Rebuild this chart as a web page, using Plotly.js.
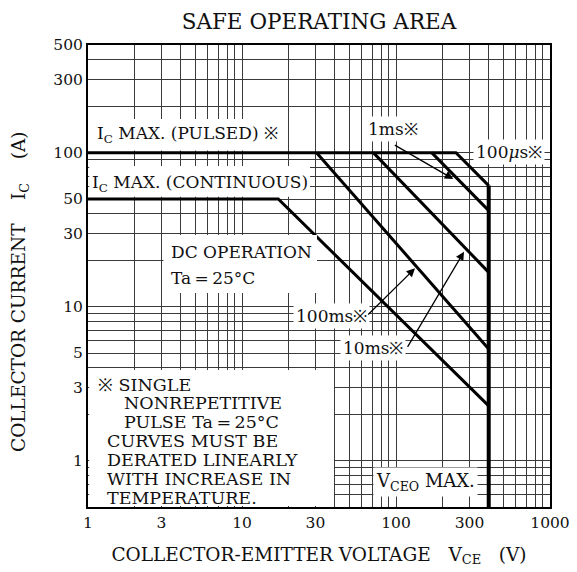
<!DOCTYPE html>
<html>
<head>
<meta charset="utf-8">
<script src="https://cdn.plot.ly/plotly-3.0.1.min.js"></script>
<style>html,body{margin:0;padding:0;background:#fff;}#chart{width:577px;height:572px;}</style>
</head>
<body>
<div id="chart"></div>
<script>
// ---- data (V in volts, I in amperes) ----
const dcV    = [1, 17.2, 400];
const dcI    = [50, 50, 2.27];
const ms100V = [30.5, 400];
const ms100I = [100, 5.31];
const ms10V  = [71.2, 400];
const ms10I  = [100, 16.7];
const ms1V   = [170.5, 400];
const ms1I   = [100, 42.0];
const us100V = [1, 245, 400];
const us100I = [100, 100, 61.1];
const vceoV  = [400, 400];
const vceoI  = [61.1, 0.5];

const xTickVals = [1, 3, 10, 30, 100, 300, 1000];
const xTickText = ['1', '3', '10', '30', '100', '300', '1000'];
const yTickVals = [1, 3, 5, 10, 30, 50, 100, 300, 500];
const yTickText = ['1', '3', '5', '10', '30', '50', '100', '300', '500'];

// ---- log grid positions ----
function logGrid(lo, hi) {
  const out = [];
  for (let d = -1; d <= 3; d++) {
    for (let m = 1; m <= 9; m++) {
      const v = +(m * Math.pow(10, d)).toPrecision(6);
      if (v >= lo - 1e-9 && v <= hi + 1e-9) out.push(v);
    }
  }
  return out;
}
const xGrid = logGrid(1, 1000);
const yGrid = logGrid(0.5, 500);

const FONT = 'DejaVu Serif';
const INK = '#111';

// plot area in px: left 88, right 550, top 45, bottom 507
const L = 88, T = 45, W = 462, H = 462;
const px = v => (v - L) / W;
const py = v => (T + H - v) / H;

function line(x, y, w) {
  return {x: x, y: y, type: 'scatter', mode: 'lines', showlegend: false, hoverinfo: 'skip',
          line: {color: '#000', width: w}};
}
const traces = [
  line(us100V, us100I, 3),
  line(ms1V, ms1I, 3),
  line(ms10V, ms10I, 3),
  line(ms100V, ms100I, 3),
  line(dcV, dcI, 3),
  line(vceoV, vceoI, 4)
];

// white panels that hide the grid behind the text blocks
function box(x0, x1, y0, y1) {
  return {type: 'rect', xref: 'paper', yref: 'paper', layer: 'above',
          x0: px(x0), x1: px(x1), y0: py(y1), y1: py(y0),
          fillcolor: '#fff', line: {width: 0}};
}
const shapes = [
  box(89.2, 286, 119, 150.5),
  box(89.2, 310, 166, 196.8),
  box(163.5, 317, 235, 293),
  box(89.2, 334, 370, 506)
];

function label(text, x, y, size, bg) {
  const a = {text: text, xref: 'paper', yref: 'paper', x: px(x), y: py(y),
             xanchor: 'left', yanchor: 'middle', showarrow: false,
             font: {family: FONT, size: size, color: INK}};
  if (bg) { a.bgcolor = '#fff'; a.borderpad = 2; }
  return a;
}
function arrow(hx, hy, tx, ty) {
  return {text: '', xref: 'paper', yref: 'paper', x: px(hx), y: py(hy),
          ax: tx - hx, ay: ty - hy, showarrow: true, arrowhead: 2, arrowsize: 1.3,
          arrowwidth: 1.3, arrowcolor: '#000', standoff: 0};
}
const annotations = [
  label('I<sub>C</sub> MAX. (PULSED) ※', 95, 135, 17, false),
  label('I<sub>C</sub> MAX. (CONTINUOUS)', 90, 183, 17, false),
  label('DC OPERATION', 169, 252, 17, false),
  label('Ta\u2009=\u200925°C', 169, 278, 17, false),
  label('1ms※', 365, 129, 17, true),
  label('100<i>μ</i>s※', 473, 152, 17, true),
  label('100ms※', 293, 316, 17, true),
  label('10ms※', 340, 348, 17, true),
  label('V<sub>CEO</sub> MAX.', 373, 482, 18, true),
  label('※ SINGLE', 96, 385, 17.5, false),
  label('NONREPETITIVE', 122, 403, 17.5, false),
  label('PULSE Ta\u2009=\u200925°C', 122, 422, 17.5, false),
  label('CURVES MUST BE', 105, 441, 17.5, false),
  label('DERATED LINEARLY', 105, 460, 17.5, false),
  label('WITH INCREASE IN', 105, 479, 17.5, false),
  label('TEMPERATURE.', 105, 498, 17.5, false),
  arrow(453.3, 179, 393.3, 144.3),
  arrow(415, 268.3, 366.7, 316),
  arrow(464, 251.7, 406.7, 348.3),
  // y-axis title, placed like the reference (slightly below the plot centre)
  {text: 'COLLECTOR CURRENT\u00a0\u00a0\u00a0\u00a0I<sub>C</sub>\u00a0\u00a0\u00a0\u00a0(A)',
   xref: 'paper', yref: 'paper', x: px(20), y: py(292), xanchor: 'center', yanchor: 'middle',
   textangle: -90, showarrow: false, font: {family: FONT, size: 18.5, color: INK}}
];

const gridColor = '#3a3a3a';
const layout = {
  width: 577, height: 572,
  margin: {l: L, r: 577 - L - W, t: T, b: 572 - T - H, pad: 0},
  paper_bgcolor: '#fff', plot_bgcolor: '#fff',
  font: {family: FONT, color: INK},
  title: {text: 'SAFE OPERATING AREA', font: {family: FONT, size: 21.5, color: INK},
          x: 0.5, xref: 'paper', y: 0.962, yanchor: 'middle'},
  xaxis: {
    type: 'log', range: [0, 3], fixedrange: true,
    tickmode: 'array', tickvals: xTickVals, ticktext: xTickText,
    ticks: '', tickfont: {family: FONT, size: 15.5, color: INK},
    showgrid: true, gridcolor: gridColor, gridwidth: 1,
    minor: {tickmode: 'array', tickvals: xGrid, showgrid: true, gridcolor: gridColor, gridwidth: 1, ticks: ''},
    showline: true, linecolor: '#000', linewidth: 2, mirror: true, zeroline: false,
    title: {text: 'COLLECTOR-EMITTER VOLTAGE\u00a0\u00a0\u00a0V<sub>CE</sub>\u00a0\u00a0\u00a0(V)',
            font: {family: FONT, size: 18.5, color: INK}, standoff: 17}
  },
  yaxis: {
    type: 'log', range: [Math.log10(0.5), Math.log10(500)], fixedrange: true,
    tickmode: 'array', tickvals: yTickVals, ticktext: yTickText,
    ticks: '', tickfont: {family: FONT, size: 15.5, color: INK},
    showgrid: true, gridcolor: gridColor, gridwidth: 1,
    minor: {tickmode: 'array', tickvals: yGrid, showgrid: true, gridcolor: gridColor, gridwidth: 1, ticks: ''},
    showline: true, linecolor: '#000', linewidth: 2, mirror: true, zeroline: false
  },
  shapes: shapes,
  annotations: annotations
};

Plotly.newPlot('chart', traces, layout, {staticPlot: true, displayModeBar: false});
</script>
</body>
</html>
